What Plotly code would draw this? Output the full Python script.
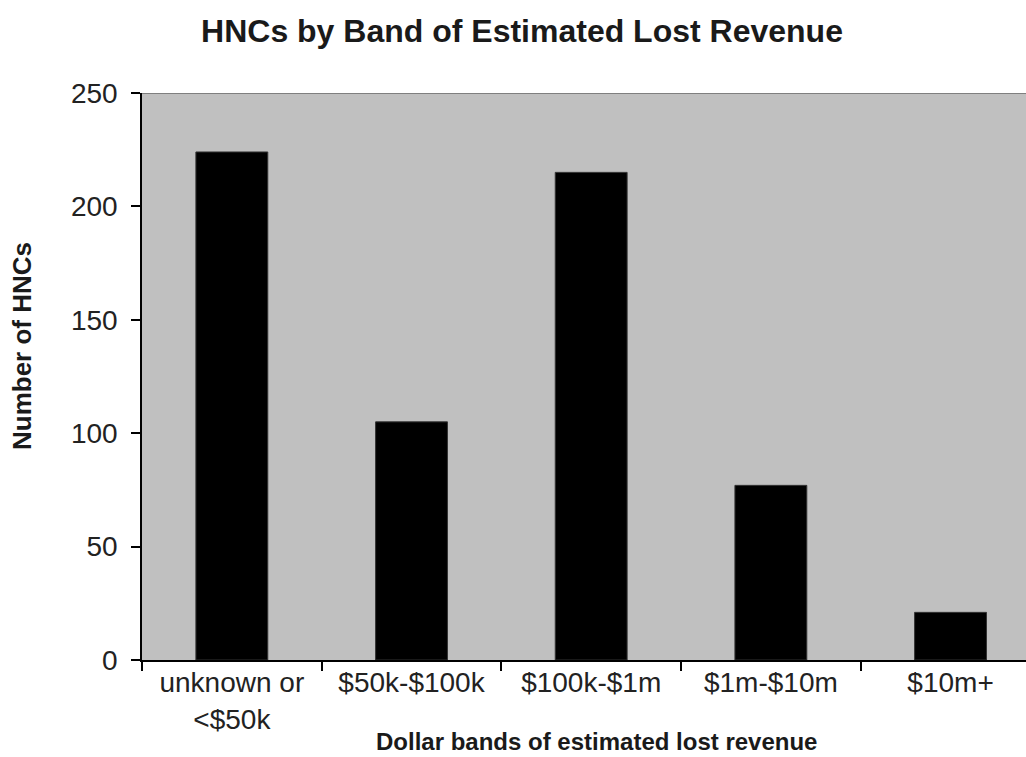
import plotly.graph_objects as go

# HNC counts per band of estimated lost revenue
categories = ["unknown or<br><$50k", "$50k-$100k", "$100k-$1m", "$1m-$10m", "$10m+"]
hnc_counts = [224, 105, 215, 77, 21]
y_ticks = [0, 50, 100, 150, 200, 250]

FONT = "Liberation Sans, Arial, sans-serif"
PLOT_L, PLOT_R, PLOT_T, PLOT_B = 142, 1026, 93, 660

fig = go.Figure(
    go.Bar(
        x=list(range(len(categories))),
        y=hnc_counts,
        width=0.4,
        marker=dict(color="#000000", line=dict(color="#333333", width=1)),
        showlegend=False,
    )
)

fig.update_layout(
    width=1026,
    height=757,
    margin=dict(l=PLOT_L, r=1026 - PLOT_R, t=PLOT_T, b=757 - PLOT_B),
    paper_bgcolor="white",
    plot_bgcolor="#c0c0c0",
    font=dict(family=FONT, color="#222222"),
    title=dict(
        text="<b>HNCs by Band of Estimated Lost Revenue</b>",
        x=522 / 1026, xanchor="center", y=1 - 31 / 757, yanchor="middle",
        font=dict(size=32, color="#1a1a1a", family=FONT),
    ),
)

fig.update_xaxes(
    tickmode="array",
    tickvals=list(range(len(categories))),
    ticktext=categories,
    range=[-0.5, 4.42],
    showgrid=False,
    zeroline=False,
    showline=True, linecolor="#000000", linewidth=1.5,
    ticks="", tickfont=dict(size=28, family=FONT, color="#222222"),
    ticklabelstandoff=-3,
    minor=dict(tickvals=[-0.5, 0.5, 1.5, 2.5, 3.5], ticks="outside",
               ticklen=9, tickcolor="#000000", tickwidth=1.5),
)

fig.update_yaxes(
    range=[0, 250],
    tickvals=y_ticks,
    showgrid=False,
    zeroline=False,
    showline=True, linecolor="#000000", linewidth=1.5,
    ticks="outside", ticklen=9, tickcolor="#000000", tickwidth=1.5,
    tickfont=dict(size=28, family=FONT, color="#222222"),
    ticklabelstandoff=8,
)

# axis titles
fig.add_annotation(
    text="<b>Dollar bands of estimated lost revenue</b>",
    xref="paper", yref="paper",
    x=(596 - PLOT_L) / (PLOT_R - PLOT_L), y=-(742 - PLOT_B) / (PLOT_B - PLOT_T),
    xanchor="center", yanchor="middle", showarrow=False, borderpad=0,
    font=dict(size=24, family=FONT, color="#1a1a1a"),
)
fig.add_annotation(
    text="<b>Number of HNCs</b>",
    xref="paper", yref="paper",
    x=-(PLOT_L - 22) / (PLOT_R - PLOT_L), y=(PLOT_B - 346) / (PLOT_B - PLOT_T),
    xanchor="center", yanchor="middle", textangle=-90, showarrow=False, borderpad=0,
    font=dict(size=26, family=FONT, color="#1a1a1a"),
)

# thin grey border along the top of the plotting area
fig.add_shape(type="line", xref="paper", yref="y", x0=0, x1=1, y0=250, y1=250,
              line=dict(color="#7f7f7f", width=2))

fig.write_html("out.html")
